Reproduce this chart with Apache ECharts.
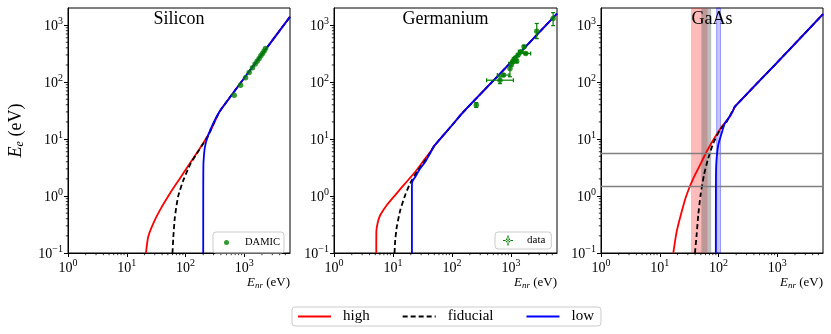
<!DOCTYPE html>
<html><head><meta charset="utf-8">
<script src="https://cdn.jsdelivr.net/npm/echarts@6/dist/echarts.min.js"></script>
<style>html,body{margin:0;padding:0;background:#fff}#c{width:831px;height:334px}</style>
</head><body><div id="c"></div>
<script>
const FONT = '"Liberation Serif", "DejaVu Serif", serif';
const panelTitles = ['Silicon', 'Germanium', 'GaAs'];
const xTicks = [1, 10, 100, 1000];
const yTicks = [0.1, 1, 10, 100, 1000];
const X_MIN = 1, X_MAX = 6000, Y_MIN = 0.1, Y_MAX = 2000;
const minorMantissa = [2, 3, 4, 5, 6, 7, 8, 9];
const xDecades = [1, 10, 100, 1000];
const yDecades = [0.1, 1, 10, 100, 1000];

// Silicon  [E_nr, E_e]
const siTail = [[385, 31], [600, 58], [1000, 118], [2000, 308], [6000, 1400]];
const siHigh = [[21.2, 0.1], [23.2, 0.193], [28.3, 0.332], [36.7, 0.567], [54.3, 1.11], [80.3, 2.04], [119, 3.75], [176, 6.88], [260, 13.4]];
const siFid = [[60, 0.1], [62, 0.19], [66, 0.43], [75, 0.99], [92, 1.9], [122, 3.7], [170, 6.4], [240, 11.2], [316, 21]];
const siLow = [[200, 0.1], [200.3, 1], [200.8, 2.5], [202.5, 4], [214, 7.3], [243, 11.7], [296, 18.8]];
const damic = [[674, 59], [865, 88], [1051, 119], [1211, 148], [1380, 178], [1530, 207], [1656, 233], [1790, 260], [1914, 289], [2040, 318], [2178, 350], [2296, 390]];

// Germanium
const geTail = [[50, 7.6], [100, 17.5], [148, 28.3], [400, 83], [1000, 224], [6000, 1600]];
const geHigh = [[5.2, 0.1], [5.22, 0.24], [5.5, 0.34], [6.06, 0.46], [7.87, 0.695], [10.9, 1.04], [16.1, 1.67], [23.9, 2.67], [35.3, 4.58], [43, 6.0]];
const geFid = [[10.6, 0.1], [10.9, 0.169], [11.6, 0.29], [13.3, 0.57], [16.1, 1.04], [19.5, 1.67], [25.5, 2.67], [35.3, 4.3], [43, 5.8]];
const geLow = [[20.9, 0.1], [20.9, 1.5], [21.3, 1.8], [23.9, 2.18], [29, 3.06], [35.3, 4.0], [43, 5.75]];
// [E, Ee, Elo, Ehi, Eelo, Eehi]
const geData = [
  [257, 39.5, 257, 257, 35.9, 43.7],
  [648, 108, 385, 1094, 94, 124],
  [740, 133, 585, 925, 125, 141],
  [958, 174, 958, 958, 124, 222],
  [1011, 204, 1011, 1011, 190, 218],
  [1065, 227, 1065, 1065, 212, 242],
  [1122, 253, 1122, 1122, 238, 268],
  [1197, 267, 1197, 1197, 252, 282],
  [1245, 233, 1245, 1245, 220, 246],
  [1310, 298, 1310, 1310, 282, 314],
  [1455, 341, 1330, 1600, 325, 357],
  [1770, 319, 1455, 2150, 305, 333],
  [1656, 417, 1656, 1656, 395, 440],
  [2725, 785, 2725, 2725, 580, 1070],
  [5160, 1313, 5160, 5160, 980, 1660]
];

// GaAs
const gaTail = [[190, 37], [1000, 222], [6000, 1560]];
const gaHigh = [[17, 0.1], [19.4, 0.237], [23.6, 0.53], [28.6, 1.04], [37.2, 2.04], [48.3, 3.5], [62.7, 6.0], [81.3, 9.6], [113, 16.4], [156, 24.6], [175, 31]];
const gaFid = [[39.7, 0.1], [42.4, 0.207], [45.2, 0.46], [49.5, 1.04], [56.5, 2.33], [66.8, 4.58], [81.3, 8.4], [106, 14.5], [137, 20], [165, 28.5]];
const gaLow = [[90, 0.1], [90.4, 2], [92, 4], [99, 7.86], [113, 12.6], [128, 18.8], [156, 25.5], [175, 31]];
const gaBandRed = [34, 65];
const gaBandGray = [51, 75];
const gaBandBlue = [93, 108];
const gaHLines = [5.6, 1.5];

const grids = [
  {left: 68, top: 8, width: 222, height: 245},
  {left: 334, top: 8, width: 223, height: 245},
  {left: 601, top: 8, width: 222, height: 245}
];

function expStr(v) { const e = Math.round(Math.log10(v)); return e < 0 ? '\u2212' + (-e) : String(e); }
const tickRich = {
  b: {fontFamily: FONT, fontSize: 14, color: '#000', verticalAlign: 'bottom', lineHeight: 17},
  s: {fontFamily: FONT, fontSize: 10, color: '#000', verticalAlign: 'top', lineHeight: 17}
};
const nameRich = {
  i: {fontFamily: FONT, fontStyle: 'italic', fontSize: 13, color: '#000'},
  sub: {fontFamily: FONT, fontStyle: 'italic', fontSize: 9, color: '#000', padding: [5, 0, 0, 0]},
  n: {fontFamily: FONT, fontSize: 13, color: '#000'}
};
const yNameRich = {
  i: {fontFamily: FONT, fontStyle: 'italic', fontSize: 18, color: '#000'},
  sub: {fontFamily: FONT, fontStyle: 'italic', fontSize: 12, color: '#000', padding: [7, 0, 0, 0]},
  n: {fontFamily: FONT, fontSize: 18, color: '#000'}
};

const xAxes = grids.map((g, i) => ({
  type: 'log', logBase: 10, gridIndex: i, min: X_MIN, max: X_MAX,
  axisLine: {show: true, onZero: false, lineStyle: {color: '#000', width: 1}},
  axisTick: {show: true, length: 4, customValues: xTicks, lineStyle: {color: '#000', width: 1}},
  axisLabel: {customValues: xTicks, margin: 5, formatter: v => '{b|10}{s|' + expStr(v) + '}', rich: tickRich},
  splitLine: {show: false},
  name: '{i|E}{sub|nr}{n| (eV)}', nameLocation: 'end', nameGap: 0,
  nameTextStyle: {align: 'right', verticalAlign: 'top', padding: [23, 0, 0, 0], rich: nameRich}
}));
const yAxes = grids.map((g, i) => ({
  type: 'log', logBase: 10, gridIndex: i, min: Y_MIN, max: Y_MAX,
  axisLine: {show: true, onZero: false, lineStyle: {color: '#000', width: 1}},
  axisTick: {show: true, length: 4, customValues: yTicks, lineStyle: {color: '#000', width: 1}},
  axisLabel: {customValues: yTicks, margin: 5, formatter: v => '{b|10}{s|' + expStr(v) + '}', rich: tickRich},
  splitLine: {show: false},
  name: i === 0 ? '{i|E}{sub|e}{n| (eV)}' : '', nameLocation: 'middle', nameGap: 42, nameRotate: 90,
  nameTextStyle: {rich: yNameRich}
}));

const xMinor = [], yMinor = [];
xDecades.forEach(d => minorMantissa.forEach(m => { if (d * m < X_MAX) xMinor.push(d * m); }));
yDecades.forEach(d => minorMantissa.forEach(m => { if (d * m < Y_MAX) yMinor.push(d * m); }));

const series = [];
grids.forEach((g, i) => {
  series.push({
    type: 'custom', xAxisIndex: i, yAxisIndex: i, silent: true, clip: false, z: 1,
    data: xMinor.map(v => [v, Y_MIN]),
    renderItem: (p, api) => { const c = api.coord([api.value(0), api.value(1)]);
      return {type: 'line', shape: {x1: c[0], y1: c[1], x2: c[0], y2: c[1] + 2.2}, style: {stroke: '#000', lineWidth: 0.8}}; }
  });
  series.push({
    type: 'custom', xAxisIndex: i, yAxisIndex: i, silent: true, clip: false, z: 1,
    data: yMinor.map(v => [X_MIN, v]),
    renderItem: (p, api) => { const c = api.coord([api.value(0), api.value(1)]);
      return {type: 'line', shape: {x1: c[0] - 2.2, y1: c[1], x2: c[0], y2: c[1]}, style: {stroke: '#000', lineWidth: 0.8}}; }
  });
});

// GaAs bands & horizontal lines
series.push({
  type: 'line', xAxisIndex: 2, yAxisIndex: 2, data: [], silent: true, z: 1,
  markArea: {silent: true, label: {show: false}, data: [
    [{xAxis: gaBandRed[0], itemStyle: {color: 'rgba(255,0,0,0.27)'}}, {xAxis: gaBandRed[1]}],
    [{xAxis: gaBandGray[0], itemStyle: {color: 'rgba(110,110,110,0.45)'}}, {xAxis: gaBandGray[1]}],
    [{xAxis: gaBandBlue[0], itemStyle: {color: 'rgba(0,0,255,0.22)', borderColor: 'rgba(0,0,255,0.35)', borderWidth: 1}}, {xAxis: gaBandBlue[1]}]
  ]},
  markLine: {silent: true, symbol: 'none', label: {show: false},
    lineStyle: {color: '#808080', width: 1.3, type: 'solid'},
    data: gaHLines.map(v => ({yAxis: v}))}
});

const curveSets = [[siHigh, siFid, siLow, siTail], [geHigh, geFid, geLow, geTail], [gaHigh, gaFid, gaLow, gaTail]];
curveSets.forEach((cs, i) => {
  const tail = cs[3];
  series.push({type: 'line', name: 'high', xAxisIndex: i, yAxisIndex: i, data: cs[0].concat(tail), symbol: 'none', smooth: 0.2,
    lineStyle: {color: '#ff0000', width: 1.8}, itemStyle: {color: '#ff0000'}, z: 3});
  series.push({type: 'line', name: 'fiducial', xAxisIndex: i, yAxisIndex: i, data: cs[1].concat(tail), symbol: 'none', smooth: 0.2,
    lineStyle: {color: '#000000', width: 1.8, type: [5, 3]}, itemStyle: {color: '#000'}, z: 4});
  series.push({type: 'line', name: 'low', xAxisIndex: i, yAxisIndex: i, data: cs[2].concat(tail), symbol: 'none', smooth: 0.2,
    lineStyle: {color: '#0000ff', width: 1.8}, itemStyle: {color: '#0000ff'}, z: 5});
});

series.push({type: 'scatter', name: 'DAMIC', xAxisIndex: 0, yAxisIndex: 0, data: damic, symbol: 'circle', symbolSize: 5.5,
  itemStyle: {color: '#008000'}, z: 6});
series.push({type: 'custom', name: 'data', xAxisIndex: 1, yAxisIndex: 1, data: geData, z: 6,
  itemStyle: {color: '#008000'},
  encode: {x: 0, y: 1},
  renderItem: (p, api) => {
    const x = api.value(0), y = api.value(1);
    const a = api.coord([api.value(2), y]), b = api.coord([api.value(3), y]);
    const c = api.coord([x, api.value(4)]), d = api.coord([x, api.value(5)]);
    const st = {stroke: '#008000', lineWidth: 1.2};
    const ch = [
      {type: 'line', shape: {x1: a[0], y1: a[1], x2: b[0], y2: b[1]}, style: st},
      {type: 'line', shape: {x1: c[0], y1: c[1], x2: d[0], y2: d[1]}, style: st},
      {type: 'line', shape: {x1: c[0] - 2, y1: c[1], x2: c[0] + 2, y2: c[1]}, style: st},
      {type: 'line', shape: {x1: d[0] - 2, y1: d[1], x2: d[0] + 2, y2: d[1]}, style: st}
    ];
    if (b[0] - a[0] > 1) {
      ch.push({type: 'line', shape: {x1: a[0], y1: a[1] - 2, x2: a[0], y2: a[1] + 2}, style: st});
      ch.push({type: 'line', shape: {x1: b[0], y1: b[1] - 2, x2: b[0], y2: b[1] + 2}, style: st});
    }
    return {type: 'group', children: ch};
  }
});
series.push({type: 'scatter', name: 'data', xAxisIndex: 1, yAxisIndex: 1, data: geData.map(r => [r[0], r[1]]), symbol: 'circle', symbolSize: 5.5,
  itemStyle: {color: '#008000'}, z: 7});

const errIcon = 'path://M4.4,0h1.2v10h-1.2z M0,4.4h10v1.2h-10z M5,2.6a2.4,2.4 0 1,0 0.001,0z';

const option = {
  animation: false,
  backgroundColor: '#fff',
  grid: grids.map(g => Object.assign({show: true, borderColor: '#000', borderWidth: 1, backgroundColor: 'transparent'}, g)),
  xAxis: xAxes,
  yAxis: yAxes,
  legend: [
    {data: ['high', 'fiducial', 'low'], left: 292, top: 307, itemWidth: 33, itemHeight: 10, itemGap: 32,
      itemStyle: {opacity: 0},
      padding: [2, 7, 2, 5], borderColor: '#cccccc', borderWidth: 1, borderRadius: 3,
      textStyle: {fontFamily: FONT, fontSize: 15, color: '#000', padding: [0, 0, 0, 7]}},
    {data: [{name: 'DAMIC', icon: 'circle'}], left: 213, top: 232, itemWidth: 5, itemHeight: 5,
      padding: [5, 4, 5, 11], borderColor: '#cccccc', borderWidth: 1, borderRadius: 3,
      textStyle: {fontFamily: FONT, fontSize: 10.5, color: '#000', padding: [0, 0, 0, 11]}},
    {data: [{name: 'data', icon: errIcon, itemStyle: {color: '#008000'}}], left: 495, top: 232, itemWidth: 10, itemHeight: 10,
      padding: [3, 6, 3, 8], borderColor: '#cccccc', borderWidth: 1, borderRadius: 3,
      textStyle: {fontFamily: FONT, fontSize: 11, color: '#000', padding: [0, 0, 0, 9]}}
  ],
  graphic: panelTitles.map((t, i) => ({type: 'text', x: grids[i].left + grids[i].width / 2, y: 19, z: 20,
    style: {text: t, align: 'center', verticalAlign: 'middle', fontFamily: FONT, fontSize: 18, fill: '#000'}})),
  series: series
};
const chart = echarts.init(document.getElementById('c'), null, {renderer: 'canvas'});
chart.setOption(option);
</script></body></html>
